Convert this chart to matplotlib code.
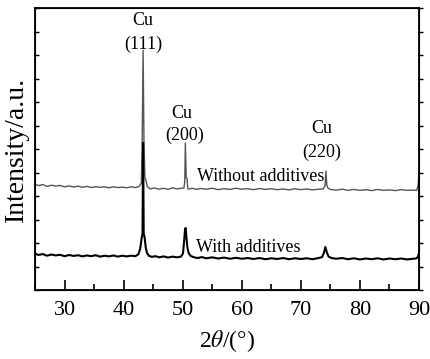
import matplotlib
matplotlib.use("Agg")
import matplotlib.pyplot as plt
from matplotlib.ticker import MultipleLocator

plt.rcParams["font.family"] = ["Liberation Serif", "DejaVu Serif"]
plt.rcParams["mathtext.fontset"] = "stix"

# XRD pattern without additives (grey, offset upward)
two_theta_wo = [25.0, 25.6, 26.3, 27.0, 27.8, 28.5, 29.2, 30.0, 30.8, 31.5,
                32.3, 33.0, 33.8, 34.5, 35.3, 36.0, 36.8, 37.5, 38.3, 39.0,
                39.8, 40.5, 41.3, 42.0, 42.6, 43.0, 43.15, 43.3, 43.45, 43.6,
                43.75, 44.0, 44.5, 45.2, 46.0, 46.8, 47.5, 48.3, 49.0, 49.7,
                50.2, 50.35, 50.45, 50.6, 50.75, 50.85, 51.0, 51.6, 52.3, 53.0,
                54.0, 55.0, 56.0, 57.0, 58.0, 59.0, 60.0, 61.0, 62.0, 63.0,
                64.0, 65.0, 66.0, 67.0, 68.0, 69.0, 70.0, 71.0, 72.0, 73.0,
                73.8, 74.1, 74.25, 74.4, 74.6, 75.0, 76.0, 77.0, 78.0, 79.0,
                80.0, 81.0, 82.0, 83.0, 84.0, 85.0, 86.0, 87.0, 88.0, 89.0,
                89.6, 89.85, 90.0]
int_wo = [4.50, 4.44, 4.49, 4.41, 4.46, 4.42, 4.45, 4.39, 4.43, 4.38,
          4.42, 4.37, 4.41, 4.36, 4.40, 4.37, 4.39, 4.35, 4.39, 4.36,
          4.38, 4.35, 4.39, 4.36, 4.40, 4.55, 6.50, 10.20, 6.20, 4.75,
          4.70, 4.40, 4.30, 4.34, 4.29, 4.33, 4.28, 4.35, 4.30, 4.33,
          4.34, 4.60, 6.26, 4.78, 4.74, 4.32, 4.29, 4.33, 4.28, 4.32,
          4.29, 4.33, 4.27, 4.31, 4.28, 4.33, 4.29, 4.31, 4.27, 4.32,
          4.28, 4.31, 4.27, 4.30, 4.26, 4.31, 4.27, 4.30, 4.26, 4.29,
          4.30, 4.45, 5.06, 4.45, 4.33, 4.28, 4.25, 4.29, 4.24, 4.28,
          4.24, 4.27, 4.23, 4.28, 4.24, 4.26, 4.23, 4.27, 4.24, 4.25,
          4.24, 4.45, 5.10]

# XRD pattern with additives (black)
two_theta_w = [25.0, 25.6, 26.3, 27.0, 27.8, 28.5, 29.2, 30.0, 30.8, 31.5,
               32.3, 33.0, 33.8, 34.5, 35.3, 36.0, 36.8, 37.5, 38.3, 39.0,
               39.8, 40.5, 41.3, 42.0, 42.5, 42.8, 43.05, 43.2, 43.3, 43.4,
               43.55, 43.75, 43.95, 44.3, 44.8, 45.4, 46.0, 46.8, 47.5, 48.3,
               49.0, 49.7, 50.05, 50.25, 50.4, 50.5, 50.65, 50.8, 51.0, 51.3,
               51.8, 52.5, 53.2, 54.0, 55.0, 56.0, 57.0, 58.0, 59.0, 60.0,
               61.0, 62.0, 63.0, 64.0, 65.0, 66.0, 67.0, 68.0, 69.0, 70.0,
               71.0, 72.0, 73.0, 73.6, 73.9, 74.15, 74.4, 74.7, 75.2, 76.0,
               77.0, 78.0, 79.0, 80.0, 81.0, 82.0, 83.0, 84.0, 85.0, 86.0,
               87.0, 88.0, 89.0, 89.5, 89.8, 90.0]
int_w = [1.55, 1.49, 1.53, 1.46, 1.51, 1.47, 1.50, 1.44, 1.49, 1.45,
         1.48, 1.43, 1.47, 1.44, 1.48, 1.42, 1.46, 1.43, 1.47, 1.42,
         1.46, 1.43, 1.46, 1.44, 1.52, 1.75, 2.20, 2.40, 6.26, 2.40,
         2.25, 1.80, 1.58, 1.45, 1.41, 1.44, 1.39, 1.43, 1.38, 1.42,
         1.39, 1.42, 1.55, 2.10, 2.60, 2.64, 2.20, 1.80, 1.58, 1.46,
         1.40, 1.36, 1.40, 1.35, 1.39, 1.34, 1.38, 1.33, 1.37, 1.33,
         1.36, 1.32, 1.36, 1.31, 1.35, 1.32, 1.36, 1.31, 1.35, 1.32,
         1.35, 1.31, 1.36, 1.40, 1.58, 1.83, 1.60, 1.42, 1.36, 1.33,
         1.36, 1.31, 1.35, 1.30, 1.34, 1.31, 1.35, 1.30, 1.34, 1.31,
         1.34, 1.30, 1.33, 1.34, 1.40, 1.57]

fig = plt.figure(figsize=(4.3, 3.59), dpi=100)
ax = fig.add_axes([0.0814, 0.1922, 0.8930, 0.7855])

ax.plot(two_theta_wo, int_wo, color="#555555", lw=1.0)
ax.plot(two_theta_w, int_w, color="black", lw=1.5)

ax.set_xlim(25, 90)
ax.set_ylim(0, 12)

ax.xaxis.set_major_locator(MultipleLocator(10))
ax.xaxis.set_minor_locator(MultipleLocator(5))
ax.yaxis.set_major_locator(MultipleLocator(1))
ax.tick_params(axis="x", which="major", direction="in", length=7, width=1.2,
               labelsize=16, pad=8)
ax.tick_params(axis="x", which="minor", direction="in", length=4, width=1.2)
ax.tick_params(axis="y", which="both", direction="in", length=3, width=1.0,
               labelleft=False)
for s in ax.spines.values():
    s.set_linewidth(1.3)

# outward ticks on the right spine
ax_r = ax.twinx()
ax_r.set_ylim(0, 12)
ax_r.yaxis.set_major_locator(MultipleLocator(1))
ax_r.tick_params(axis="y", direction="out", length=3, width=1.0, labelright=False)

fs = 13
ax.text(43.28, 11.45, "Cu", ha="center", va="center", fontsize=fs)
ax.text(43.28, 10.47, "(111)", ha="center", va="center", fontsize=fs)
ax.text(49.9, 7.53, "Cu", ha="center", va="center", fontsize=fs)
ax.text(50.4, 6.60, "(200)", ha="center", va="center", fontsize=fs)
ax.text(73.6, 6.89, "Cu", ha="center", va="center", fontsize=fs)
ax.text(73.6, 5.87, "(220)", ha="center", va="center", fontsize=fs)
ax.text(52.4, 4.64, "Without additives", ha="left", va="baseline", fontsize=fs)
ax.text(52.25, 1.62, "With additives", ha="left", va="baseline", fontsize=fs)

ax.set_xlabel(r"2$\theta$/(°)", fontsize=17, labelpad=6)
ax.set_ylabel("Intensity/a.u.", fontsize=20, labelpad=4)

fig.savefig("out.png", dpi=100)
